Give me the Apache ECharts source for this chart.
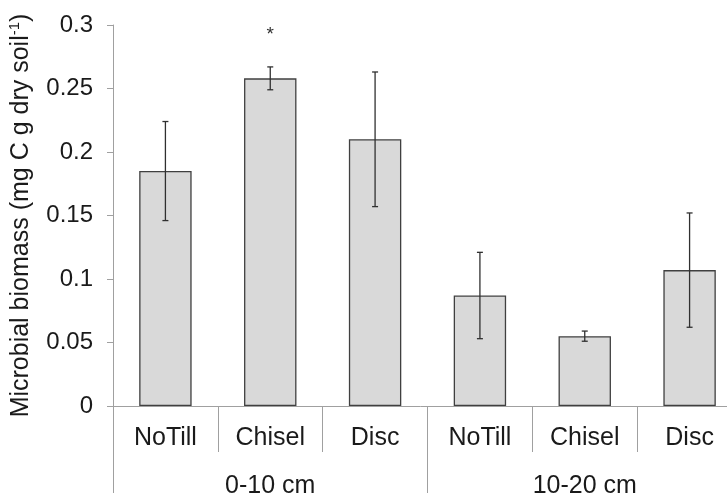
<!DOCTYPE html>
<html>
<head>
<meta charset="utf-8">
<script src="https://cdn.jsdelivr.net/npm/echarts@6/dist/echarts.min.js"></script>
<style>
html,body{margin:0;padding:0;background:#fff;overflow:hidden;}
#chart{width:727px;height:493px;}
</style>
</head>
<body>
<div id="chart"></div>
<script>
var categories = ['NoTill', 'Chisel', 'Disc', 'NoTill', 'Chisel', 'Disc'];
var depthGroups = ['0-10 cm', '10-20 cm'];
var means = [0.185, 0.258, 0.210, 0.087, 0.055, 0.107];
var errors = [0.039, 0.009, 0.053, 0.034, 0.004, 0.045];
var significance = ['', '*', '', '', '', ''];

var FONT = "'Liberation Sans', Arial, sans-serif";
var TXT = '#1a1a1a';
var AX = '#a0a0a0';

var errData = means.map(function (m, i) {
  return [i, m - errors[i], m + errors[i], significance[i]];
});

var chart = echarts.init(document.getElementById('chart'));
chart.setOption({
  animation: false,
  backgroundColor: '#ffffff',
  grid: { left: 113, top: 25, width: 629, height: 381, containLabel: false, outerBoundsMode: 'none' },
  xAxis: [
    {
      type: 'category',
      data: categories,
      position: 'bottom',
      axisLine: { show: true, lineStyle: { color: AX, width: 1 } },
      axisTick: { show: true, interval: 0, length: 46, lineStyle: { color: AX, width: 1 } },
      axisLabel: { interval: 0, margin: 20, color: TXT, fontSize: 25, fontFamily: FONT },
      splitLine: { show: false }
    },
    {
      type: 'category',
      data: depthGroups,
      position: 'bottom',
      offset: 0,
      axisLine: { show: false },
      axisTick: { show: true, interval: 0, length: 90, lineStyle: { color: AX, width: 1 } },
      axisLabel: { interval: 0, margin: 68, color: TXT, fontSize: 25, fontFamily: FONT },
      splitLine: { show: false }
    }
  ],
  yAxis: {
    type: 'value',
    min: 0,
    max: 0.3,
    interval: 0.05,
    name: 'Microbial biomass (mg C g dry soil{sup|-1})',
    nameLocation: 'middle',
    nameGap: 66,
    nameRotate: 90,
    nameTextStyle: {
      color: TXT, fontSize: 25, fontFamily: FONT, lineHeight: 28,
      rich: { sup: { fontSize: 15, fontFamily: FONT, color: TXT, verticalAlign: 'top', lineHeight: 15 } }
    },
    axisLine: { show: true, lineStyle: { color: AX, width: 1 } },
    axisTick: { show: true, inside: false, length: 6, lineStyle: { color: AX, width: 1 } },
    axisLabel: { margin: 20, color: TXT, fontSize: 24, fontFamily: FONT },
    splitLine: { show: false }
  },
  series: [
    {
      type: 'bar',
      xAxisIndex: 0,
      data: means,
      barWidth: '50%',
      itemStyle: { color: '#d9d9d9', borderColor: '#404040', borderWidth: 1.3 },
      silent: true
    },
    {
      type: 'custom',
      xAxisIndex: 0,
      data: errData,
      silent: true,
      z: 5,
      renderItem: function (params, api) {
        var i = api.value(0);
        var lo = api.coord([i, api.value(1)]);
        var hi = api.coord([i, api.value(2)]);
        var cap = 3;
        var st = { stroke: '#303030', lineWidth: 1.3 };
        var children = [
          { type: 'line', shape: { x1: hi[0], y1: hi[1], x2: lo[0], y2: lo[1] }, style: st },
          { type: 'line', shape: { x1: hi[0] - cap, y1: hi[1], x2: hi[0] + cap, y2: hi[1] }, style: st },
          { type: 'line', shape: { x1: lo[0] - cap, y1: lo[1], x2: lo[0] + cap, y2: lo[1] }, style: st }
        ];
        var sig = significance[params.dataIndex];
        if (sig) {
          children.push({
            type: 'text',
            x: hi[0], y: hi[1] - 32,
            style: { text: sig, fill: '#303030', fontSize: 19, fontFamily: FONT, align: 'center', verticalAlign: 'middle' }
          });
        }
        return { type: 'group', children: children };
      }
    }
  ]
});
</script>
</body>
</html>
